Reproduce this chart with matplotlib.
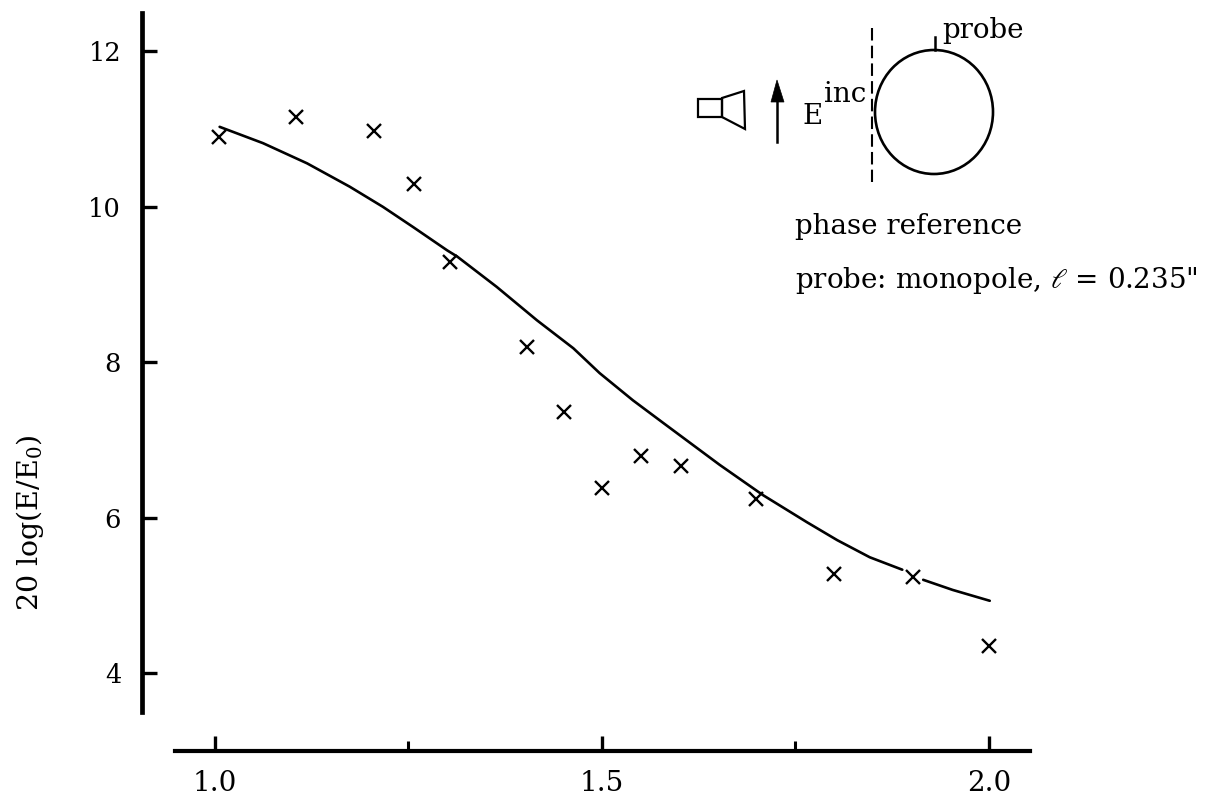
import numpy as np
import matplotlib
matplotlib.use("Agg")
import matplotlib.pyplot as plt
from matplotlib.patches import Ellipse, Polygon, Rectangle

plt.rcParams['font.family'] = ['DejaVu Serif']
plt.rcParams['mathtext.fontset'] = 'dejavuserif'
plt.rcParams['axes.unicode_minus'] = False

# measured points
meas_x = [1.005, 1.105, 1.205, 1.257, 1.304, 1.403, 1.451, 1.500, 1.550, 1.602, 1.699, 1.800, 1.902, 2.000]
meas_y = [10.90, 11.16, 10.98, 10.29, 9.29, 8.20, 7.36, 6.38, 6.79, 6.66, 6.24, 5.27, 5.24, 4.35]

# theory curve (gap where it passes the cross near 1.9)
curve_x = [1.006, 1.062, 1.119, 1.174, 1.217, 1.256, 1.300, 1.313, 1.364, 1.416, 1.463, 1.497, 1.540,
           1.579, 1.652, 1.708, 1.765, 1.804, 1.846, 1.888, np.nan, 1.915, 1.953, 2.001]
curve_y = [11.03, 10.82, 10.56, 10.26, 10.00, 9.74, 9.44, 9.36, 8.97, 8.54, 8.18, 7.86, 7.51,
           7.22, 6.68, 6.29, 5.94, 5.71, 5.49, 5.33, np.nan, 5.20, 5.07, 4.93]

x_major = [1.0, 1.5, 2.0]
x_major_labels = ['1.0', '1.5', '2.0']
x_minor = [1.25, 1.75]
y_major = [4, 6, 8, 10, 12]
y_labels = ['4', '6', '8', '10', '12']

FS = 20
W, H = 1219, 802
fig = plt.figure(figsize=(W / 100, H / 100), dpi=100, facecolor='white')
ax = fig.add_axes([142 / W, (H - 750.5) / H, 888 / W, 738.5 / H])
ax.set_xlim(0.9057, 2.053)
ax.set_ylim(3.003, 12.508)
ax.patch.set_alpha(0)

ax.plot(curve_x, curve_y, color='black', lw=1.9, solid_capstyle='round')
ax.plot(meas_x, meas_y, ls='none', marker='x', color='black', ms=9.5, mew=1.7)

for s in ('top', 'right'):
    ax.spines[s].set_visible(False)
ax.spines['left'].set_linewidth(3.4)
ax.spines['left'].set_bounds(3.50, 12.50)
ax.spines['bottom'].set_linewidth(3.0)
ax.spines['bottom'].set_bounds(0.948, 2.053)

ax.set_xticks(x_major, x_major_labels)
ax.set_xticks(x_minor, minor=True)
ax.set_yticks(y_major, y_labels)
ax.tick_params(axis='x', which='major', direction='in', length=11, width=2.4, pad=14, labelsize=FS)
ax.tick_params(axis='x', which='minor', direction='in', length=7, width=2.2)
ax.tick_params(axis='y', which='major', direction='in', length=11, width=2.4, pad=15, labelsize=18.5)

ax.set_ylabel(r'20 log(E/E$_{\mathdefault{0}}$)', fontsize=20.5)
ax.yaxis.set_label_coords(-0.108, 0.308)

# schematic, drawn in figure pixels
ov = fig.add_axes([0, 0, 1, 1])
ov.set_xlim(0, W)
ov.set_ylim(H, 0)
ov.axis('off')
ov.patch.set_alpha(0)

ov.add_patch(Rectangle((698, 99), 24, 18, fill=False, ec='black', lw=1.6))
ov.add_patch(Polygon([(722, 98), (744, 91), (745, 129), (722, 117)], closed=True, fill=False, ec='black', lw=1.6))
ov.plot([777, 777], [142, 100], color='black', lw=1.8)
ov.add_patch(Polygon([(771, 102), (777, 80), (784, 102)], closed=True, fc='black', ec='black', lw=0.5))
ov.plot([872, 872], [28, 182], color='black', lw=1.5, ls=(0, (6, 2.5)))
ov.add_patch(Ellipse((934, 112), 118, 124, fill=False, ec='black', lw=1.9))
ov.plot([934.5, 934.5], [37, 50], color='black', lw=1.8)

ov.text(802, 124, 'E', fontsize=FS, ha='left', va='baseline')
ov.text(824, 102, 'inc', fontsize=FS, ha='left', va='baseline')
ov.text(942, 38, 'probe', fontsize=FS, ha='left', va='baseline')
ov.text(795, 234, 'phase reference', fontsize=FS, ha='left', va='baseline')
ov.text(795, 288, r'probe: monopole, $\ell$ = 0.235"', fontsize=FS, ha='left', va='baseline')

fig.savefig('out.png', dpi=100, facecolor='white')
